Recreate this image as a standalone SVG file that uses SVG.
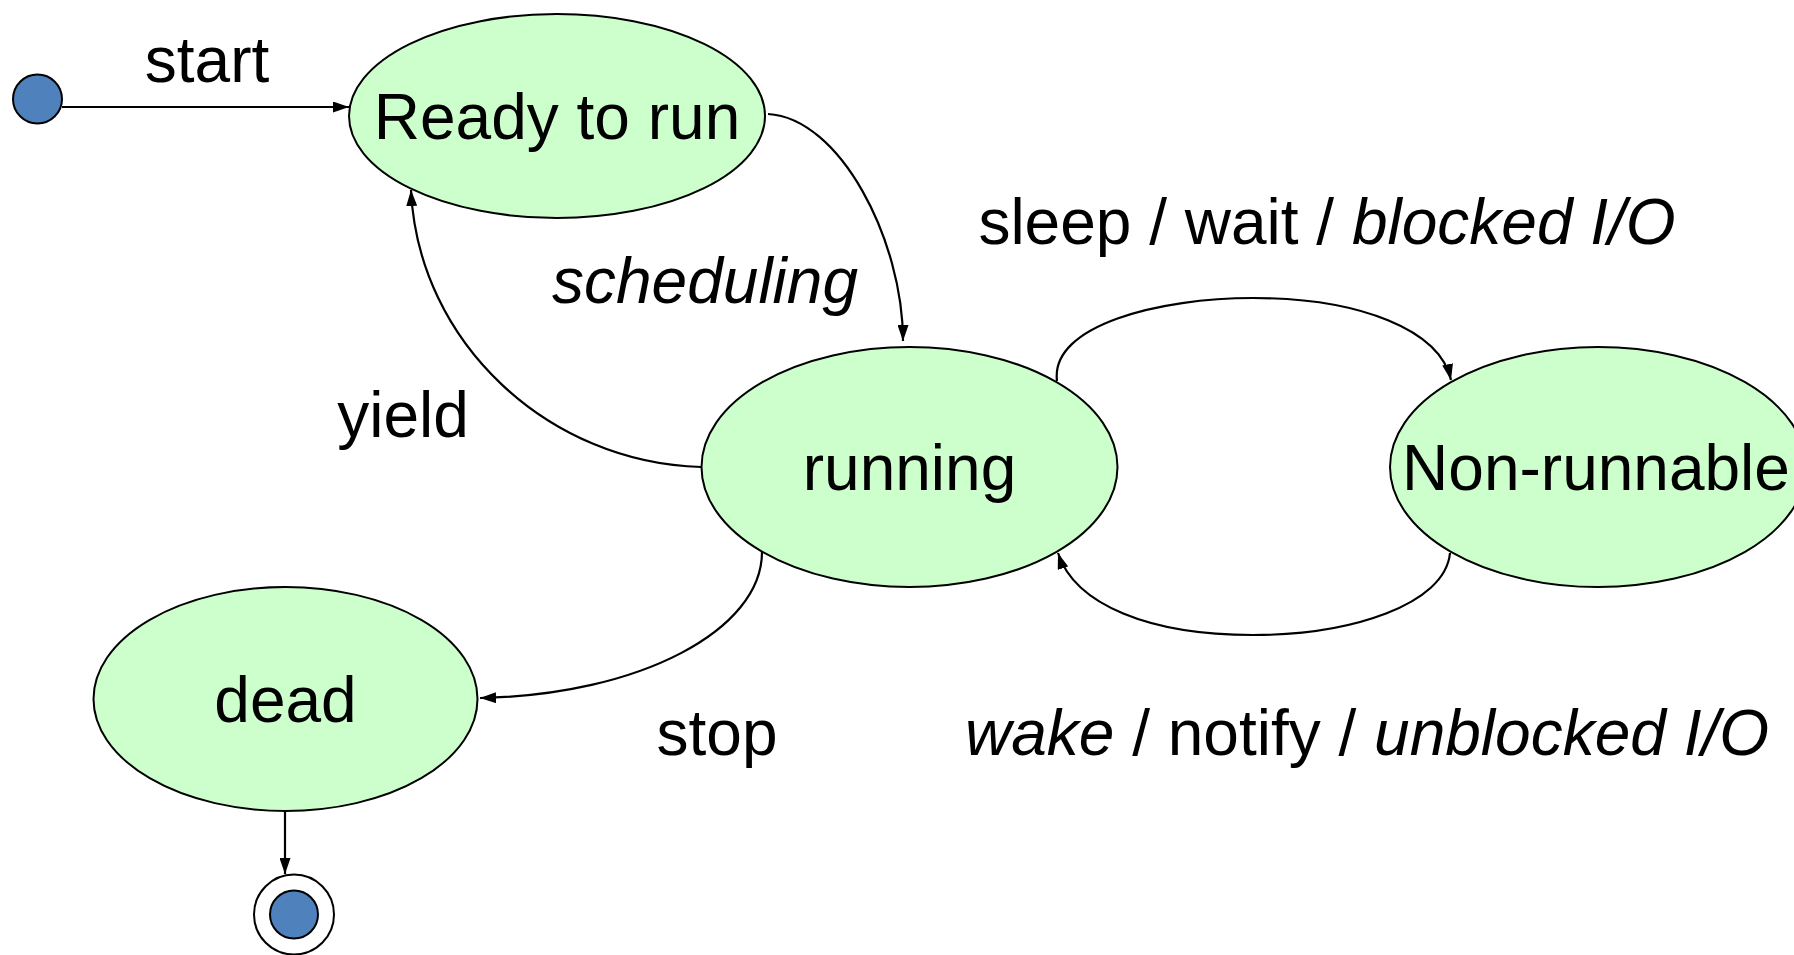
<svg xmlns="http://www.w3.org/2000/svg" width="1794" height="955" viewBox="0 0 1794 955">
<defs>
<style>
.node{fill:#CCFFCC;stroke:#000;stroke-width:2}
.dot{fill:#4F81BD;stroke:#000;stroke-width:2}
.lbl{font-family:"Liberation Sans",Arial,sans-serif;font-size:64px;fill:#000}
.it{font-style:italic}
.edge{fill:none;stroke:#000;stroke-width:2.2;marker-end:url(#arr)}
</style>
<marker id="arr" viewBox="0 0 16 11" refX="16" refY="5.5" markerWidth="16" markerHeight="11" markerUnits="userSpaceOnUse" orient="auto">
<path d="M0,0 L16,5.5 L0,11 Z" fill="#000"/>
</marker>
</defs>
<rect width="1794" height="955" fill="#fff"/>
<g id="connectors">
<path class="edge" d="M62,107 L349,107"/>
<path class="edge" d="M768,114 C840,118 903,240 903,341"/>
<path class="edge" d="M701,467 C549,463 418,343 411,190"/>
<path class="edge" d="M1057,381 C1050,325 1160,298 1253,298 C1360,298 1440,330 1451,380"/>
<path class="edge" d="M1450,553 C1445,605 1350,635 1253,635 C1150,635 1075,605 1058,553"/>
<path class="edge" d="M762,552 C762,630 640,695 480,698"/>
<path class="edge" d="M285,811 L285,874"/>
</g>
<g id="start-node"><circle class="dot" cx="37.5" cy="99" r="24.5"/></g>
<g id="ready"><ellipse class="node" cx="557" cy="116" rx="208" ry="102"/><text class="lbl" x="557" y="139" text-anchor="middle">Ready to run</text></g>
<g id="running"><ellipse class="node" cx="909.5" cy="467" rx="208" ry="120"/><text class="lbl" x="909.5" y="490" text-anchor="middle">running</text></g>
<g id="nonrunnable"><ellipse class="node" cx="1598" cy="467" rx="208" ry="120"/><text class="lbl" x="1596" y="490" text-anchor="middle">Non-runnable</text></g>
<g id="dead"><ellipse class="node" cx="285.5" cy="699" rx="192" ry="112"/><text class="lbl" x="285.5" y="722" text-anchor="middle">dead</text></g>
<g id="end-node"><circle cx="294" cy="914.5" r="40" fill="#fff" stroke="#000" stroke-width="2"/><circle class="dot" cx="294" cy="914.5" r="24"/></g>
<g id="labels">
<text class="lbl" x="207" y="82" text-anchor="middle">start</text>
<text class="lbl it" x="705" y="303" text-anchor="middle">scheduling</text>
<text class="lbl" x="403" y="437" text-anchor="middle">yield</text>
<text class="lbl" x="717" y="755" text-anchor="middle">stop</text>
<text class="lbl" x="1327" y="244" text-anchor="middle">sleep / wait / <tspan class="it">blocked I/O</tspan></text>
<text class="lbl" x="1367" y="755" text-anchor="middle"><tspan class="it">wake</tspan> / notify / <tspan class="it">unblocked I/O</tspan></text>
</g>
</svg>
